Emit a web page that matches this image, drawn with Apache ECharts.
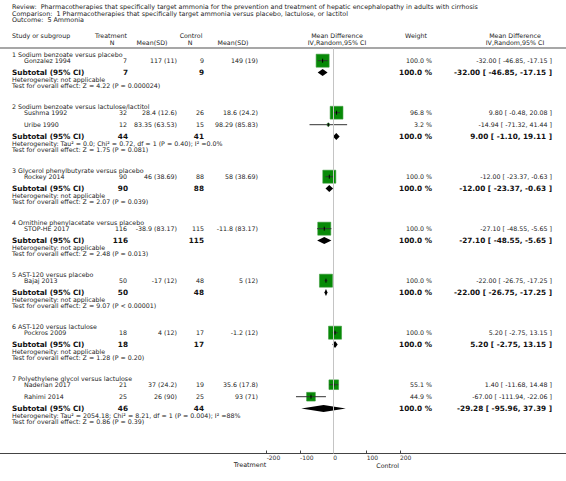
<!DOCTYPE html>
<html><head><meta charset="utf-8">
<script src="https://cdn.jsdelivr.net/npm/echarts@6/dist/echarts.min.js"></script>
<style>html,body{margin:0;padding:0;background:#fff}#c{width:566px;height:481px}</style>
</head><body><div id="c"></div>
<script>
// ---------- DATA ----------
const titleLines = [
  'Review:  Pharmacotherapies that specifically target ammonia for the prevention and treatment of hepatic encephalopathy in adults with cirrhosis',
  'Comparison:  1 Pharmacotherapies that specifically target ammonia versus placebo, lactulose, or lactitol',
  'Outcome:  5 Ammonia'
];
const groupTitles = [
  '1 Sodium benzoate versus placebo',
  '2 Sodium benzoate versus lactulose/lactitol',
  '3 Glycerol phenylbutyrate versus placebo',
  '4 Ornithine phenylacetate versus placebo',
  '5 AST-120 versus placebo',
  '6 AST-120 versus lactulose',
  '7 Polyethylene glycol versus lactulose'
];
const studyNames = ['Gonzalez 1994','Sushma 1992','Uribe 1990','Rockey 2014','STOP-HE 2017','Bajaj 2013','Pockros 2009','Naderian 2017','Rahimi 2014'];
const studyGroup = [0,1,1,2,3,4,5,6,6];
const treatN    = [7,32,12,90,116,50,18,21,25];
const treatMean = [117,28.4,83.35,46,-38.9,-17,4,37,26];
const treatSD   = [11,12.6,63.53,38.69,83.17,12,12,24.2,90];
const ctrlN     = [9,26,15,88,115,48,17,19,25];
const ctrlMean  = [149,18.6,98.29,58,-11.8,5,-1.2,35.6,93];
const ctrlSD    = [19,24.2,85.83,38.69,83.17,12,12,17.8,71];
const studyMD   = [-32.00,9.80,-14.94,-12.00,-27.10,-22.00,5.20,1.40,-67.00];
const studyLo   = [-46.85,-0.48,-71.32,-23.37,-48.55,-26.75,-2.75,-11.68,-111.94];
const studyHi   = [-17.15,20.08,41.44,-0.63,-5.65,-17.25,13.15,14.48,-22.06];
const studyWeight = [100.0,96.8,3.2,100.0,100.0,100.0,100.0,55.1,44.9];
const subTreatN = [7,44,90,116,50,18,46];
const subCtrlN  = [9,41,88,115,48,17,44];
const subMD = [-32.00,9.00,-12.00,-27.10,-22.00,5.20,-29.28];
const subLo = [-46.85,-1.10,-23.37,-48.55,-26.75,-2.75,-95.96];
const subHi = [-17.15,19.11,-0.63,-5.65,-17.25,13.15,37.39];
const hetTexts = [
  'Heterogeneity: not applicable',
  'Heterogeneity: Tau\u00b2 = 0.0; Chi\u00b2 = 0.72, df = 1 (P = 0.40); I\u00b2 =0.0%',
  'Heterogeneity: not applicable',
  'Heterogeneity: not applicable',
  'Heterogeneity: not applicable',
  'Heterogeneity: not applicable',
  'Heterogeneity: Tau\u00b2 = 2054.18; Chi\u00b2 = 8.21, df = 1 (P = 0.004); I\u00b2 =88%'
];
const testTexts = [
  'Test for overall effect: Z = 4.22 (P = 0.000024)',
  'Test for overall effect: Z = 1.75 (P = 0.081)',
  'Test for overall effect: Z = 2.07 (P = 0.039)',
  'Test for overall effect: Z = 2.48 (P = 0.013)',
  'Test for overall effect: Z = 9.07 (P < 0.00001)',
  'Test for overall effect: Z = 1.28 (P = 0.20)',
  'Test for overall effect: Z = 0.86 (P = 0.39)'
];
const xTicks = [-200,-100,0,100,200];
const favoursLeft = 'Treatment';
const favoursRight = 'Control';

// ---------- LAYOUT ----------
const W = 566, H = 481;
const FONT = '"DejaVu Sans", Verdana, sans-serif';
const zeroX = 333.3, pxPerUnit = 33.33/100;
const axisY = 453.5, gridTop = 48;
const xMin = -zeroX/pxPerUnit, xMax = (W-zeroX)/pxPerUnit;

const headerY = [], studyY = [], subY = [];
let cy = 54.7;
for (let gi = 0; gi < groupTitles.length; gi++) {
  headerY[gi] = cy;
  let last = cy;
  let k = 0;
  for (let i = 0; i < studyNames.length; i++) {
    if (studyGroup[i] === gi) { studyY[i] = cy + 6 + k*12; last = studyY[i]; k++; }
  }
  subY[gi] = last + 11.7;
  cy = subY[gi] + 34.3;
}

const COL = {left:12, study:24, tN:127, tM:177, cN:204, cM:258, wt:432, ci:552};
const TXT = '#222';
const SM = 6.3, BD = 7.3, HD = 6.3;
function txt(x, y, s, size, align, bold, color) {
  return {type:'text', x:x, y:y, silent:true,
    style:{text:s, font:(bold?'bold ':'')+size+'px '+FONT, fill:color||TXT, textAlign:align||'left', textVerticalAlign:'middle'}};
}
const fmt2 = v => v.toFixed(2);
const ciStr = (m,l,h) => fmt2(m)+' [ '+fmt2(l)+', '+fmt2(h)+' ]';

const els = [];
titleLines.forEach((s,i)=> els.push(txt(COL.left, 7+i*6.7, s, 6.4)));
els.push(txt(COL.left, 35, 'Study or subgroup', HD));
els.push(txt(111, 35, 'Treatment', HD, 'center'));
els.push(txt(112, 42, 'N', HD, 'center'));
els.push(txt(152, 42, 'Mean(SD)', HD, 'center'));
els.push(txt(191, 35, 'Control', HD, 'center'));
els.push(txt(190, 42, 'N', HD, 'center'));
els.push(txt(233, 42, 'Mean(SD)', HD, 'center'));
els.push(txt(337, 35, 'Mean Difference', HD, 'center'));
els.push(txt(337, 42, 'IV,Random,95% CI', HD, 'center'));
els.push(txt(416, 35, 'Weight', HD, 'center'));
els.push(txt(515, 35, 'Mean Difference', HD, 'center'));
els.push(txt(515, 42, 'IV,Random,95% CI', HD, 'center'));
els.push({type:'line', silent:true, shape:{x1:0,y1:gridTop,x2:W,y2:gridTop}, style:{stroke:'#8a8a8a', lineWidth:1.5}});

for (let k = 0; k < groupTitles.length; k++) {
  els.push(txt(COL.left, headerY[k], groupTitles[k], SM));
  els.push(txt(COL.left, subY[k], 'Subtotal (95% CI)', BD, 'left', true, '#111'));
  els.push(txt(COL.tN+1, subY[k], String(subTreatN[k]), BD, 'right', true, '#111'));
  els.push(txt(COL.cN, subY[k], String(subCtrlN[k]), BD, 'right', true, '#111'));
  els.push(txt(COL.wt, subY[k], '100.0 %', BD, 'right', true, '#111'));
  els.push(txt(COL.ci, subY[k], ciStr(subMD[k],subLo[k],subHi[k]), BD, 'right', true, '#111'));
  els.push(txt(COL.left, subY[k]+7, hetTexts[k], SM));
  els.push(txt(COL.left, subY[k]+13.3, testTexts[k], SM));
}
for (let i = 0; i < studyNames.length; i++) {
  const y = studyY[i];
  els.push(txt(COL.study, y, studyNames[i], SM));
  els.push(txt(COL.tN, y, String(treatN[i]), SM, 'right'));
  els.push(txt(COL.tM, y, treatMean[i]+' ('+treatSD[i]+')', SM, 'right'));
  els.push(txt(COL.cN, y, String(ctrlN[i]), SM, 'right'));
  els.push(txt(COL.cM, y, ctrlMean[i]+' ('+ctrlSD[i]+')', SM, 'right'));
  els.push(txt(COL.wt, y, studyWeight[i].toFixed(1)+' %', SM, 'right'));
  els.push(txt(COL.ci, y, ciStr(studyMD[i],studyLo[i],studyHi[i]), SM, 'right'));
}
els.push(txt(zeroX - 67, 465, favoursLeft, 6.4, 'right'));
els.push(txt(zeroX + 43, 465, favoursRight, 6.3, 'left'));

const studyData = studyNames.map((n,i)=>[studyMD[i], studyLo[i], studyHi[i], studyY[i], studyWeight[i]]);
const subData = groupTitles.map((n,k)=>[subMD[k], subLo[k], subHi[k], subY[k]]);

const chart = echarts.init(document.getElementById('c'), null, {renderer:'svg', width:W, height:H});
const option = {
  animation:false,
  backgroundColor:'#fff',
  grid:{left:0, right:0, top:gridTop, bottom:H-axisY, containLabel:false},
  xAxis:{type:'value', min:xMin, max:xMax, position:'bottom',
    axisLine:{show:true, onZero:false, lineStyle:{color:'#444', width:1.2}},
    axisTick:{show:true, inside:true, length:3, customValues:xTicks, lineStyle:{color:'#444'}},
    axisLabel:{show:true, customValues:xTicks, align:'left', margin:1, fontSize:6, color:'#333', fontFamily:FONT, formatter:v=>String(v)},
    splitLine:{show:false}},
  yAxis:{type:'value', inverse:true, min:gridTop, max:axisY, show:false},
  series:[
    {type:'custom', data:studyData, silent:true, z:3,
     markLine:{silent:true, symbol:['none','none'], label:{show:false}, lineStyle:{color:'#c4c4c4', width:1, type:'solid'}, data:[{xAxis:0}]},
     renderItem:function(params, api){
       const md=api.value(0), lo=api.value(1), hi=api.value(2), yv=api.value(3), w=api.value(4);
       const c=api.coord([md,yv]), l=api.coord([lo,yv]), h=api.coord([hi,yv]);
       const s=13*Math.sqrt(w/100);
       return {type:'group', children:[
         {type:'rect', shape:{x:c[0]-s/2, y:c[1]-s/2, width:s, height:s}, style:{fill:'#078a07', stroke:'#3a9a3a', lineWidth:0.6}},
         {type:'line', shape:{x1:l[0], y1:c[1], x2:h[0], y2:c[1]}, style:{stroke:'#333', lineWidth:1}},
         {type:'line', shape:{x1:c[0], y1:c[1]-2, x2:c[0], y2:c[1]+2}, style:{stroke:'#000', lineWidth:1}}
       ]};
     }},
    {type:'custom', data:subData, silent:true, z:3,
     renderItem:function(params, api){
       const md=api.value(0), lo=api.value(1), hi=api.value(2), yv=api.value(3);
       const c=api.coord([md,yv]), l=api.coord([lo,yv]), h=api.coord([hi,yv]);
       const lx=Math.min(l[0], c[0]-1.5), hx=Math.max(h[0], c[0]+1.5);
       return {type:'polygon', shape:{points:[[lx,c[1]],[c[0],c[1]-3.5],[hx,c[1]],[c[0],c[1]+3.5]]}, style:{fill:'#000'}};
     }}
  ],
  graphic:{elements:els}
};
chart.setOption(option);
</script></body></html>
